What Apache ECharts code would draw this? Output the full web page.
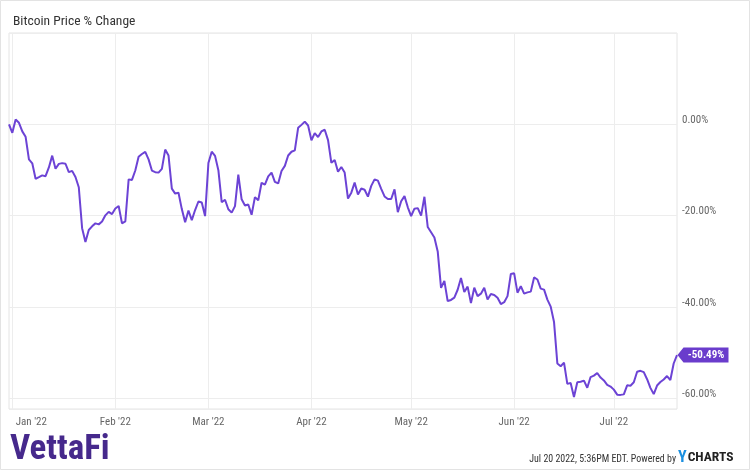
<!DOCTYPE html>
<html>
<head>
<meta charset="utf-8">
<script src="https://cdn.jsdelivr.net/npm/echarts@6/dist/echarts.min.js"></script>
<style>
  html, body { margin: 0; padding: 0; background: #fff; }
  #chart { width: 750px; height: 470px; }
</style>
</head>
<body>
<div id="chart"></div>
<script>
// ---- data ----
const startDate = '2021-12-31';
// % change vs. start, one value per day (Dec 31 2021 .. Jul 20 2022)
const dec = [0];
const jan = [-1.85, 1.08, 0.35, -1.53, -2.72, -7.65, -8.52, -11.91, -11.54, -11.16, -11.35, -9.42, -6.84, -9.72, -8.65, -8.48, -8.62, -10.45, -10.18, -11.52, -13.77, -22.72, -25.75, -23.11, -22.31, -21.67, -21.89, -21.28, -19.91, -19.16, -19.63];
const feb = [-18.43, -17.88, -21.68, -21.25, -12.04, -12.16, -10.10, -7.08, -6.49, -6.02, -7.66, -10.11, -10.46, -10.56, -9.73, -5.52, -6.82, -14.07, -15.15, -14.96, -18.54, -21.42, -18.85, -20.95, -18.75, -16.88, -17.11, -20.07];
const mar = [-8.45, -5.99, -6.90, -10.02, -17.04, -16.49, -18.57, -19.32, -17.89, -11.01, -16.41, -17.77, -17.54, -19.77, -15.92, -16.62, -12.79, -13.20, -11.40, -10.57, -12.57, -12.93, -10.22, -9.09, -6.82, -6.00, -5.68, -0.76, -0.11, 0.61, -0.25];
const apr = [-3.48, -1.90, -2.78, -1.54, -1.18, -3.44, -8.42, -7.79, -10.37, -9.32, -10.54, -16.23, -14.95, -12.74, -15.35, -14.04, -14.32, -15.82, -13.46, -12.03, -12.30, -14.10, -15.77, -16.34, -16.34, -14.24, -19.21, -16.82, -15.70, -18.16];
const may = [-20.06, -18.46, -18.33, -19.98, -15.85, -22.47, -23.61, -24.75, -27.81, -35.78, -34.25, -38.67, -38.43, -37.93, -36.20, -33.64, -36.70, -35.51, -39.12, -35.75, -37.59, -37.05, -35.74, -38.32, -37.14, -37.34, -37.96, -39.32, -38.92, -37.59, -32.75];
const jun = [-32.61, -36.84, -35.42, -37.04, -36.77, -36.61, -33.51, -33.96, -35.96, -36.17, -38.35, -39.89, -43.27, -52.34, -52.93, -52.16, -56.80, -56.61, -59.69, -56.44, -56.34, -56.10, -57.64, -55.31, -55.00, -54.42, -55.43, -56.05, -57.01, -57.39];
const jul = [-58.06, -59.16, -59.21, -59.10, -57.12, -57.20, -56.45, -54.14, -53.94, -54.23, -55.78, -57.67, -59.04, -57.16, -56.40, -55.84, -55.09, -55.96, -52.34, -50.49];
const monthNames = ['Jan', 'Feb', 'Mar', 'Apr', 'May', 'Jun', 'Jul', 'Aug', 'Sep', 'Oct', 'Nov', 'Dec'];
const yTicks = [-60, -40, -20, 0];

const values = [].concat(dec, jan, feb, mar, apr, may, jun, jul);
const dates = [];
{
  const d0 = new Date(startDate + 'T00:00:00Z');
  for (let i = 0; i < values.length; i++) {
    const d = new Date(d0.getTime() + i * 86400000);
    dates.push(d.toISOString().slice(0, 10));
  }
}
const lastIdx = values.length - 1;

const FONT = "'Roboto Condensed','Liberation Sans Narrow','Arial Narrow',Roboto,sans-serif";
const isMonthStart = (idx, val) => (typeof val === 'string' ? val : dates[idx]).slice(8, 10) === '01';

const chart = echarts.init(document.getElementById('chart'), null, { renderer: 'canvas' });
chart.setOption({
  animation: false,
  backgroundColor: '#fff',
  textStyle: { fontFamily: FONT },
  title: {
    text: 'Bitcoin Price % Change',
    left: 8, top: 10,
    textStyle: { fontSize: 13.5, fontWeight: 'normal', color: '#333', fontFamily: FONT }
  },
  grid: {
    left: 9, right: 73, top: 33, bottom: 61,
    show: true, borderColor: '#e4e4e4', borderWidth: 1
  },
  xAxis: {
    type: 'category',
    data: dates,
    boundaryGap: false,
    axisLine: { show: false },
    axisTick: { show: false },
    splitLine: { show: true, interval: (i, v) => isMonthStart(i, v), lineStyle: { color: '#ededed', width: 1 } },
    axisLabel: {
      interval: (i, v) => isMonthStart(i, v),
      margin: 8,
      color: '#666',
      fontSize: 11,
      fontFamily: FONT,
      formatter: (v) => {
        const m = parseInt(v.slice(5, 7), 10) - 1;
        const txt = monthNames[m] + " '" + v.slice(2, 4);
        return m === 0 ? '{j|' + txt + '}' : txt;
      },
      rich: { j: { padding: [0, 0, 0, 38], color: '#666', fontSize: 11, fontFamily: FONT } }
    }
  },
  yAxis: {
    type: 'value',
    position: 'right',
    min: -62.3, max: 20,
    axisLine: { show: false },
    axisTick: { show: false },
    splitLine: { lineStyle: { color: '#ededed', width: 1 } },
    axisLabel: {
      showMinLabel: false, showMaxLabel: false,
      margin: 5,
      verticalAlign: 'bottom',
      lineHeight: 8,
      color: '#666',
      fontSize: 11,
      fontFamily: FONT,
      formatter: (v) => yTicks.indexOf(v) >= 0 ? v.toFixed(2) + '%' : ''
    }
  },
  series: [{
    type: 'line',
    data: values,
    symbol: 'none',
    smooth: false,
    lineStyle: { color: '#6c43d5', width: 2 },
    itemStyle: { color: '#6c43d5' },
    markPoint: {
      symbol: 'path://M0,7.5 L6,0 L51,0 L51,15 L6,15 Z',
      symbolSize: [51, 15],
      symbolKeepAspect: false,
      symbolOffset: [26, 0],
      itemStyle: { color: '#6a3ccc' },
      label: {
        show: true, position: 'inside', offset: [3, 0],
        color: '#fff', fontWeight: 'bold', fontSize: 11, fontFamily: FONT,
        formatter: (p) => Number(p.value).toFixed(2) + '%'
      },
      data: [{ coord: [dates[lastIdx], values[lastIdx]], value: values[lastIdx] }]
    }
  }],
  graphic: [
    { type: 'rect', silent: true, shape: { x: 0.5, y: 0.5, width: 749, height: 469 }, style: { fill: 'none', stroke: '#e3e3e3', lineWidth: 1 } },
    { type: 'text', x: 10, y: 450, silent: true,
      style: { text: 'VettaFi', font: "bold 35px " + FONT, fill: '#46298c', verticalAlign: 'middle' } },
    { type: 'text', x: 676, y: 459, scaleX: 0.9, silent: true,
      style: { text: 'Jul 20 2022, 5:36PM EDT. Powered by', font: "11px " + FONT, fill: '#333', align: 'right', verticalAlign: 'middle' } },
    { type: 'text', x: 678, y: 458, silent: true,
      style: { text: '{y|Y}{c|CHARTS}', verticalAlign: 'middle', rich: {
        y: { fontSize: 16, fontWeight: 'bold', fill: '#1a8fe0', fontFamily: FONT },
        c: { fontSize: 13.5, fontWeight: 'bold', fill: '#222', fontFamily: FONT, padding: [0, 0, 0, 1] }
      } } }
  ]
});
</script>
</body>
</html>
